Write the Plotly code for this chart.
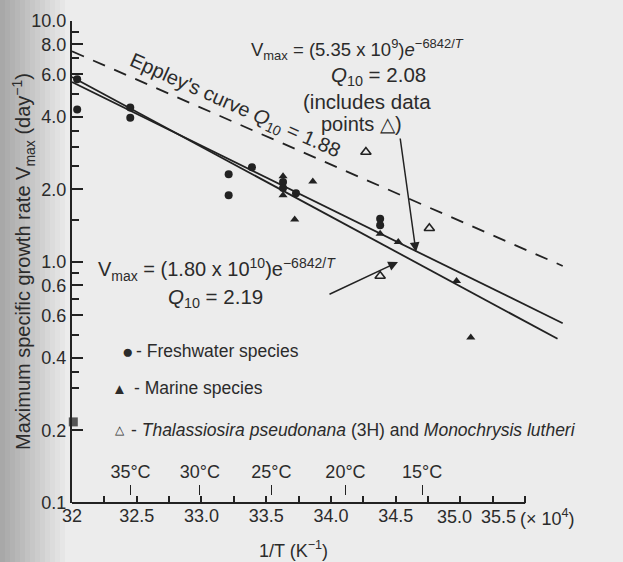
import plotly.graph_objects as go

# ---------------- data ----------------
fresh_x = [32.04, 32.04, 32.45, 32.45, 33.21, 33.21, 33.39, 33.63, 33.63, 33.73, 34.38, 34.38]
fresh_y = [5.73, 4.29, 4.38, 3.97, 2.31, 1.89, 2.47, 2.15, 2.03, 1.93, 1.51, 1.42]

marine_x = [33.63, 33.63, 33.86, 33.72, 34.38, 34.52, 34.97, 35.08]
marine_y = [2.27, 1.89, 2.16, 1.50, 1.31, 1.21, 0.834, 0.486]

thal_x = [34.27, 34.76, 34.38]
thal_y = [2.86, 1.38, 0.875]

smudge_x = [32.01]
smudge_y = [0.217]

fit_535e9_x = [32.0, 35.79]
fit_535e9_y = [5.58, 0.557]
fit_180e10_x = [32.0, 35.75]
fit_180e10_y = [5.86, 0.480]
eppley_x = [32.0, 35.79]
eppley_y = [7.49, 0.963]

x_tick_vals = [32.0, 32.25, 32.5, 32.75, 33.0, 33.25, 33.5, 33.75, 34.0, 34.25,
               34.5, 34.75, 35.0, 35.25, 35.5]
x_tick_text = ["32", "", "32.5", "", "33.0", "", "33.5", "", "34.0", "",
               "34.5", "", "", "", ""]
y_tick_vals = [0.1, 0.2, 0.4, 0.6, 0.8, 1.0, 2.0, 4.0, 6.0, 8.0, 10.0]
y_tick_text = ["0.1", "0.2", "0.4", "0.6", "0.6", "1.0", "2.0", "4.0", "6.0", "8.0", "10.0"]
y_minor_vals = [0.3, 0.35, 0.5, 0.7, 0.9, 1.5, 2.5, 3.0, 3.5, 5.0, 7.0, 9.0]
temps_c = [35, 30, 25, 20, 15]
temp_labels = ["35°C", "30°C", "25°C", "20°C", "15°C"]
temp_pos = [1e4 / (273.15 + t) for t in temps_c]

# ---------------- layout helpers ----------------
W, H = 623, 562
L, R, T, B = 72, 59, 21, 59
PW, PH = W - L - R, H - T - B
ink = "#222222"
txt = "#2b2b2b"
FONT = "Liberation Sans, Arial, Helvetica, sans-serif"


def pxx(p):
    return (p - L) / PW


def pxy(p):
    return (H - B - p) / PH


fig = go.Figure()

fig.add_trace(go.Scatter(x=eppley_x, y=eppley_y, mode="lines",
                         line=dict(color=ink, width=1.8, dash="13px,10px"),
                         showlegend=False, hoverinfo="skip"))
fig.add_trace(go.Scatter(x=fit_535e9_x, y=fit_535e9_y, mode="lines",
                         line=dict(color=ink, width=1.8), showlegend=False))
fig.add_trace(go.Scatter(x=fit_180e10_x, y=fit_180e10_y, mode="lines",
                         line=dict(color=ink, width=1.8), showlegend=False))
fig.add_trace(go.Scatter(x=fresh_x, y=fresh_y, mode="markers", cliponaxis=False,
                         marker=dict(symbol="circle", size=8, color=ink),
                         showlegend=False))
fig.add_trace(go.Scatter(x=marine_x, y=marine_y, mode="markers", cliponaxis=False,
                         marker=dict(symbol="triangle-up", size=8, color=ink),
                         showlegend=False))
fig.add_trace(go.Scatter(x=thal_x, y=thal_y, mode="markers", cliponaxis=False,
                         marker=dict(symbol="triangle-up-open", size=9, color=ink,
                                     line=dict(width=1.6, color=ink)),
                         showlegend=False))
fig.add_trace(go.Scatter(x=smudge_x, y=smudge_y, mode="markers", cliponaxis=False,
                         marker=dict(symbol="square", size=9, color="#555555"),
                         showlegend=False))
# carrier trace for the temperature axis
fig.add_trace(go.Scatter(x=temp_pos, y=[None] * len(temp_pos), xaxis="x2",
                         mode="markers", showlegend=False, hoverinfo="skip"))

shapes = []
# scanned-page shading on the left edge
for i in range(14):
    c = int(168 + (236 - 168) * i / 13)
    shapes.append(dict(type="rect", xref="paper", yref="paper", layer="below",
                       x0=pxx(i * 5), x1=pxx(i * 5 + 5.5), y0=pxy(H), y1=pxy(0),
                       fillcolor=f"rgb({c},{c},{c})", line=dict(width=0)))
# x axis line from 32 to 35.5
shapes.append(dict(type="line", xref="x", yref="paper", x0=32.0, x1=35.5, y0=0, y1=0,
                   line=dict(color=ink, width=2)))

ann = []


def add_text(text, x, y, size=18, xanchor="center", angle=0, xref="paper", xshift=0):
    ann.append(dict(text=text, x=x, y=y, xref=xref, yref="paper", showarrow=False,
                    xanchor=xanchor, yanchor="middle", textangle=angle, xshift=xshift,
                    font=dict(size=size, color=txt, family=FONT)))


# shifted last tick labels and the multiplier
add_text("35.0", 35.0, pxy(517), xref="x", xshift=-6)
add_text("35.5", 35.5, pxy(517), xref="x", xshift=-27)
add_text("(× 10<sup>4</sup>)", pxx(547), pxy(517))
# axis titles
add_text("1/T (K<sup>−1</sup>)", pxx(293), pxy(549))
add_text("Maximum specific growth rate V<sub>max</sub> (day<sup>−1</sup>)", pxx(23), pxy(262),
         size=20, angle=-90)
# equations
add_text("V<sub>max</sub> = (5.35 x 10<sup>9</sup>)<i>e</i><sup>−6842/<i>T</i></sup>", pxx(357), pxy(49), size=18.5)
add_text("<i>Q</i><sub>10</sub> = 2.08", pxx(378), pxy(76), size=20.5)
add_text("(includes data", pxx(367), pxy(102), size=20.5)
add_text("points △)", pxx(361), pxy(124), size=20)
add_text("V<sub>max</sub> = (1.80 x 10<sup>10</sup>)e<sup>−6842/<i>T</i></sup>", pxx(217), pxy(269), size=20)
add_text("<i>Q</i><sub>10</sub> = 2.19", pxx(215), pxy(298), size=20.5)
add_text("Eppley's curve <i>Q</i><sub>10</sub> = 1.88", pxx(235), pxy(106), size=20, angle=24)
# legend
add_text("●", pxx(127), pxy(351), size=19)
add_text("- Freshwater species", pxx(134), pxy(351), size=17.5, xanchor="left")
add_text("▲", pxx(119.5), pxy(388), size=15)
add_text("- Marine species", pxx(132), pxy(388), size=17.5, xanchor="left")
add_text("△", pxx(119.5), pxy(430), size=12)
add_text("- <i>Thalassiosira pseudonana</i> (3H) and <i>Monochrysis lutheri</i>",
         pxx(129), pxy(430), size=17.5, xanchor="left")

# arrows
ann.append(dict(x=pxx(416), y=pxy(252), xref="paper", yref="paper", ax=-16, ay=-115,
                text="", showarrow=True, arrowhead=2, arrowsize=1.3, arrowwidth=1.5,
                arrowcolor=ink))
ann.append(dict(x=pxx(398), y=pxy(262), xref="paper", yref="paper", ax=-70, ay=33,
                text="", showarrow=True, arrowhead=2, arrowsize=1.3, arrowwidth=1.5,
                arrowcolor=ink))

fig.update_layout(
    width=W, height=H, autosize=False,
    margin=dict(l=L, r=R, t=T, b=B, pad=0),
    paper_bgcolor="#ececec", plot_bgcolor="rgba(0,0,0,0)",
    font=dict(family=FONT, color=txt, size=18),
    showlegend=False,
    shapes=shapes, annotations=ann,
    xaxis=dict(range=[32, 35.8], tickmode="array", tickvals=x_tick_vals, ticktext=x_tick_text,
               ticks="inside", ticklen=7, tickwidth=1.5, tickcolor=ink,
               showline=False, showgrid=False, zeroline=False,
               tickfont=dict(size=18, color=txt)),
    xaxis2=dict(overlaying="x", anchor="free", position=pxy(495), side="top",
                range=[32, 35.8], tickmode="array", tickvals=temp_pos, ticktext=temp_labels,
                ticks="outside", ticklen=10, tickwidth=1.3, tickcolor=ink,
                showline=False, showgrid=False, zeroline=False,
                tickfont=dict(size=18, color=txt)),
    yaxis=dict(type="log", range=[-1, 1], tickmode="array", tickvals=y_tick_vals,
               ticktext=y_tick_text, ticks="inside", ticklen=11, tickwidth=1.5, tickcolor=ink,
               showline=True, linewidth=2, linecolor=ink, showgrid=False, zeroline=False,
               tickfont=dict(size=18, color=txt),
               minor=dict(tickmode="array", tickvals=y_minor_vals, ticks="inside", ticklen=7,
                          tickwidth=1.5, tickcolor=ink, showgrid=False)),
)

fig.write_html("out.html")
